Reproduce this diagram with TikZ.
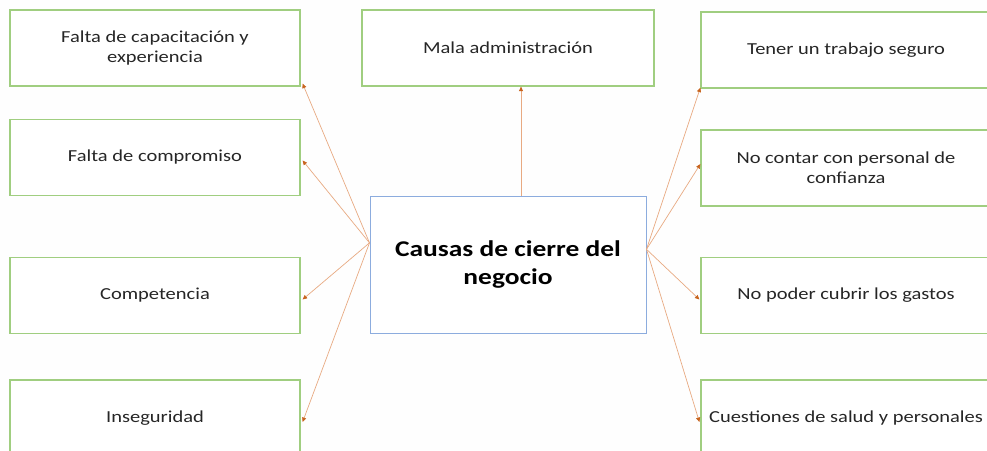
\documentclass[tikz,border=0pt]{standalone}
\usepackage{fontspec}
\setmainfont[FakeStretch=1.22]{Carlito}
\usetikzlibrary{arrows.meta,calc}
\definecolor{boxgreen}{RGB}{160,206,128}
\definecolor{boxblue}{RGB}{140,172,222}
\definecolor{linepeach}{RGB}{232,170,130}
\definecolor{tipor}{RGB}{200,100,30}
\definecolor{bgc}{RGB}{254,254,254}
\tikzset{
  cause/.style={draw=boxgreen, line width=1.2pt, fill=white, minimum width=290pt, minimum height=76pt,
    align=center, inner sep=0pt, font=\fontsize{16.8}{20}\selectfont, text=black!85},
  central/.style={draw=boxblue, line width=1pt, fill=white, minimum width=276pt, minimum height=137pt,
    align=center, inner sep=0pt, font=\bfseries\fontsize{22.5}{28}\selectfont},
  link/.style={draw=linepeach, line width=0.7pt, -{Triangle[length=4.5pt,width=4pt,color=tipor]}}
}
\begin{document}
\begin{tikzpicture}[x=1pt,y=-1pt]
\fill[bgc] (0,0) rectangle (987,450);
\useasboundingbox (0,0) rectangle (987,450);
\clip (0,0) rectangle (987,450);
\node[cause] (L1) at (155,48) {Falta de capacitación y\\experiencia};
\node[cause] (L2) at (155,157.5) {Falta de compromiso};
\node[cause] (L3) at (155,295.5) {Competencia};
\node[cause] (L4) at (155,418) {Inseguridad};
\node[cause, minimum width=292pt] (T) at (508,48) {Mala administración};
\node[cause] (R1) at (846,50) {Tener un trabajo seguro};
\node[cause] (R2) at (846,168) {No contar con personal de\\confianza};
\node[cause] (R3) at (846,295.5) {No poder cubrir los gastos};
\node[cause] (R4) at (846,418) {Cuestiones de salud y personales};
\node[central] (C) at (508,264.5) {Causas de cierre del\\negocio};
\coordinate (cl) at ($(C.north west)!0.343!(C.south west)$);
\coordinate (cr) at ($(C.north east)!0.39!(C.south east)$);
\draw[link] (cl) -- ([xshift=2pt,yshift=3pt]L1.south east);
\draw[link] (cl) -- ([xshift=2pt,yshift=-3pt]L2.east);
\draw[link] (cl) -- ([xshift=2pt,yshift=-4pt]L3.east);
\draw[link] (cl) -- ([xshift=2pt,yshift=-4pt]L4.east);
\draw[link] ([xshift=13pt]C.north) -- ([xshift=13pt]T.south);
\draw[link] (cr) -- ([yshift=1pt]R1.south west);
\draw[link] (cr) -- ([yshift=4pt]R2.west);
\draw[link] (cr) -- ([xshift=-1pt,yshift=-4pt]R3.west);
\draw[link] (cr) -- ([xshift=-1pt,yshift=-4pt]R4.west);
\end{tikzpicture}
\end{document}
